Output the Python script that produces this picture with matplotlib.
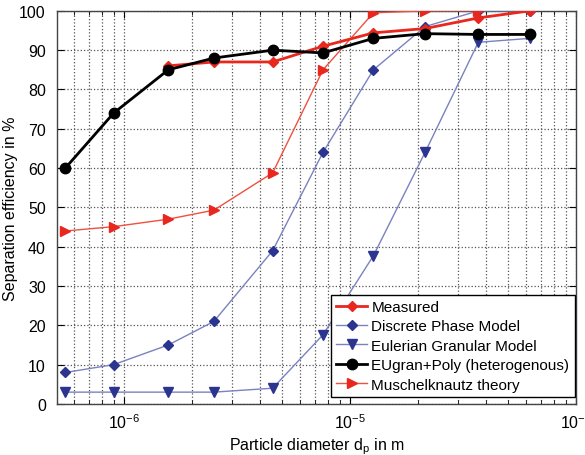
import matplotlib
matplotlib.use("Agg")
import matplotlib.pyplot as plt
import matplotlib.ticker as ticker

plt.rcParams['font.family'] = ['Liberation Sans', 'DejaVu Sans']

# particle diameters (m)
dp = [5.5e-7, 9.0e-7, 1.57e-6, 2.5e-6, 4.55e-6, 7.6e-6, 1.27e-5, 2.15e-5, 3.7e-5, 6.25e-5]

measured = [86, 87, 87, 91, 94.4, 95.5, 98.2, 100]
dpm = [8, 10, 15, 21, 39, 64, 85, 96, 100, 100]
egm = [3, 3, 3, 3, 4, 17.6, 37.7, 64, 92, 93]
eugran = [60, 74, 85, 88, 90, 89.3, 93, 94.2, 94, 94]
muschel = [44, 45.1, 47, 49.3, 58.8, 85, 99.5, 100, 100]

labels = ["Measured", "Discrete Phase Model", "Eulerian Granular Model",
          "EUgran+Poly (heterogenous)", "Muschelknautz theory"]

fig = plt.figure(figsize=(5.85, 4.56), dpi=100)
ax = fig.add_axes([0.0974, 0.112, 0.887, 0.862])

red = "#e8271e"
navy = "#2b3590"
lblue = "#7a82c0"

ax.plot(dp[2:], measured, color=red, lw=2.0, marker="D", ms=5,
        mfc=red, mec=red, label=labels[0], zorder=4)
ax.plot(dp, dpm, color=lblue, lw=1.0, marker="D", ms=5,
        mfc=navy, mec=navy, label=labels[1], zorder=3)
ax.plot(dp, egm, color=lblue, lw=1.0, marker="v", ms=6.5,
        mfc=navy, mec=navy, label=labels[2], zorder=3)
ax.plot(dp, eugran, color="black", lw=2.0, marker="o", ms=7.5,
        mfc="black", mec="black", label=labels[3], zorder=5)
ax.plot(dp[:9], muschel, color="#f0503e", lw=1.0, marker=">", ms=6.5,
        mfc=red, mec=red, label=labels[4], zorder=3)

ax.set_xscale("log")
ax.set_xlim(5.05e-7, 1e-4)
ax.set_ylim(0, 100)
ax.set_yticks(range(0, 101, 10))
ax.xaxis.set_major_locator(ticker.LogLocator(base=10, numticks=10))
ax.xaxis.set_minor_locator(ticker.LogLocator(base=10, subs=range(2, 10), numticks=20))
ax.xaxis.set_minor_formatter(ticker.NullFormatter())

ax.grid(True, which="major", ls=":", color="#555555", lw=0.9)
ax.grid(True, which="minor", axis="x", ls=":", color="#555555", lw=0.9)
ax.set_axisbelow(True)

ax.tick_params(which="both", direction="in", top=True, right=True,
               labelsize=11.5)
ax.tick_params(axis="y", pad=8)
ax.tick_params(axis="x", pad=6)
ax.tick_params(which="major", length=5)
ax.tick_params(which="minor", length=3)
for s in ax.spines.values():
    s.set_color("#444444")
    s.set_linewidth(1.0)

ax.set_xlabel("Particle diameter d$_\\mathregular{p}$ in m", fontsize=11.5, labelpad=3)
ax.set_ylabel("Separation efficiency in %", fontsize=11.5, labelpad=1)

leg = ax.legend(loc="lower right", bbox_to_anchor=(0.998, 0.018),
                borderaxespad=0, fontsize=11, frameon=True, fancybox=False,
                handlelength=2.0, handletextpad=0.3, labelspacing=0.35,
                borderpad=0.35)
leg.get_frame().set_edgecolor("black")
leg.get_frame().set_linewidth(1.0)
leg.get_frame().set_alpha(1)

fig.savefig("out.png", dpi=100)
